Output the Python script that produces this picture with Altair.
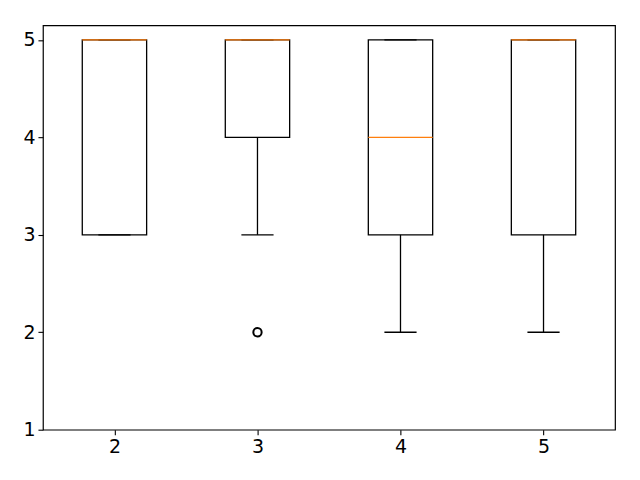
import altair as alt
import pandas as pd

categories = [2, 3, 4, 5]
q1 = [3, 4, 3, 3]
median = [5, 5, 4, 5]
q3 = [5, 5, 5, 5]
whisker_low = [3, 3, 2, 2]
whisker_high = [5, 5, 5, 5]
outlier_cat = [3]
outlier_val = [2]

df = pd.DataFrame({"cat": categories, "q1": q1, "med": median, "q3": q3,
                   "wlo": whisker_low, "whi": whisker_high})
odf = pd.DataFrame({"cat": outlier_cat, "val": outlier_val})

xscale = alt.Scale(domain=[1.5, 5.5], nice=False, zero=False)
yscale = alt.Scale(domain=[1, 5.15], nice=False, zero=False)
xaxis = alt.Axis(values=categories, format="d", title=None)
yaxis = alt.Axis(values=[1, 2, 3, 4, 5], format="d", title=None)

base = alt.Chart(df).transform_calculate(
    bl="datum.cat - 0.225", br="datum.cat + 0.225",
    cl="datum.cat - 0.1125", cr="datum.cat + 0.1125")

lw = 1.3
box = base.mark_rect(fill=None, stroke="black", strokeWidth=lw).encode(
    x=alt.X("bl:Q", scale=xscale, axis=xaxis), x2="br:Q",
    y=alt.Y("q1:Q", scale=yscale, axis=yaxis), y2="q3:Q")
wl = base.mark_rule(color="black", strokeWidth=lw).encode(
    x=alt.X("cat:Q", scale=xscale, axis=xaxis), y=alt.Y("q1:Q", scale=yscale, axis=yaxis), y2="wlo:Q")
wh = base.mark_rule(color="black", strokeWidth=lw).encode(
    x=alt.X("cat:Q", scale=xscale, axis=xaxis), y=alt.Y("q3:Q", scale=yscale, axis=yaxis), y2="whi:Q")
cl = base.mark_rule(color="black", strokeWidth=lw).encode(
    x=alt.X("cl:Q", scale=xscale, axis=xaxis), x2="cr:Q", y=alt.Y("wlo:Q", scale=yscale, axis=yaxis))
ch = base.mark_rule(color="black", strokeWidth=lw).encode(
    x=alt.X("cl:Q", scale=xscale, axis=xaxis), x2="cr:Q", y=alt.Y("whi:Q", scale=yscale, axis=yaxis))
med = base.mark_rule(color="#ff7f0e", strokeWidth=lw).encode(
    x=alt.X("bl:Q", scale=xscale, axis=xaxis), x2="br:Q", y=alt.Y("med:Q", scale=yscale, axis=yaxis))
out = alt.Chart(odf).mark_point(shape="circle", filled=False, color="black", size=70, strokeWidth=2, opacity=1).encode(
    x=alt.X("cat:Q", scale=xscale, axis=xaxis), y=alt.Y("val:Q", scale=yscale, axis=yaxis))

chart = alt.layer(box, wl, wh, cl, ch, med, out).properties(
    width=573, height=405,
    background="white",
    autosize=alt.AutoSizeParams(type="none"),
    padding={"left": 35, "top": 17, "right": 17, "bottom": 42},
).configure_view(stroke="black", strokeWidth=1.2, strokeOpacity=1).configure_axis(
    grid=False, labelFontSize=19, labelColor="black", labelFont="DejaVu Sans",
    tickColor="black", tickSize=5, tickWidth=1.1, domain=False, labelPadding=3
)

chart.save("out.html", embed_options={"renderer": "svg", "actions": False})
